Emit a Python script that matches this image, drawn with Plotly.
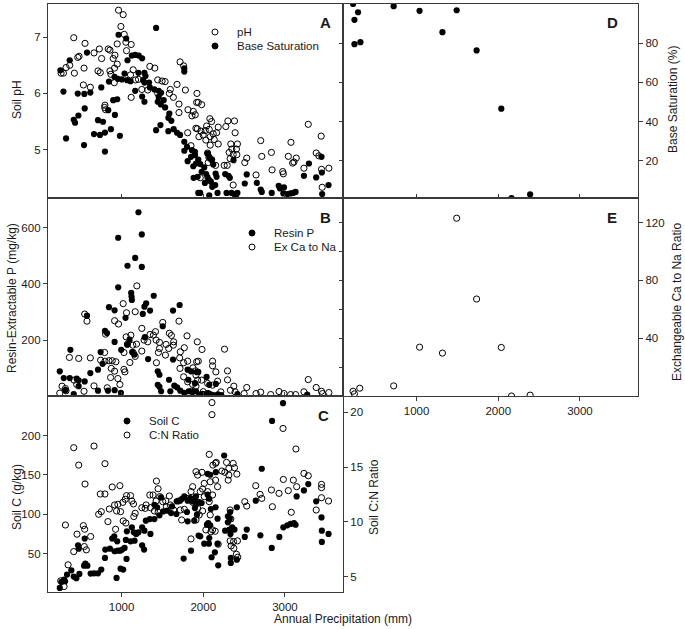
import plotly.graph_objects as go

# ---------------- Panel A: soil pH (left axis) and base saturation (right axis)
ph_precip = [963,1020,992,1033,415,553,1053,1118,947,728,837,858,663,480,464,756,919,1061,898,366,
             321,260,289,423,541,712,740,858,914,947,870,1110,1142,1346,1407,1171,1207,911,533,618,
             1248,1443,1496,1533,1679,1597,1716,1760,1781,1118,1321,1443,1585,1634,1703,797,793,805,1703,1813,
             1878,1919,1862,1809,1910,1850,1923,1939,1980,1902,2081,2102,2041,2183,2276,2301,2382,2390,1927,1972,
             2024,2073,2122,2163,2085,1999,1947,2032,2134,2183,2085,2337,2418,2406,2350,2317,2366,2411,2329,2053,
             2069,2102,2061,2151,2256,2293,1963,2366,2532,2508,2703,2716,2834,2842,2646,2972,2980,3041,3073,3110,
             3138,3094,3285,3232,3382,3443,3447,3537,3455,3415]
ph_values = [7.48,7.40,7.19,7.05,6.99,6.89,6.91,6.87,6.88,6.79,6.79,6.77,6.72,6.66,6.64,6.62,6.68,6.76,6.62,6.50,
             6.46,6.36,6.36,6.36,6.45,6.40,6.37,6.40,6.45,6.52,6.34,6.33,6.42,6.48,6.45,6.24,6.25,6.19,6.15,6.11,
             6.07,6.24,6.22,6.21,6.16,6.07,6.56,6.49,6.06,5.93,6.06,6.00,6.00,5.93,5.81,5.79,5.75,5.71,5.66,5.71,
             5.68,5.84,5.60,5.30,5.38,5.07,6.00,5.84,5.80,5.62,5.55,5.50,5.42,5.40,5.41,5.51,5.51,5.30,5.37,5.33,
             5.34,5.36,5.28,5.30,5.23,5.26,5.23,5.17,5.18,5.10,5.08,5.10,5.10,5.01,5.01,4.95,4.91,4.91,4.84,4.94,
             4.86,4.82,4.77,4.72,4.72,4.72,4.50,4.37,4.85,4.77,5.16,4.88,4.95,4.64,4.55,4.61,4.57,4.88,5.13,4.78,
             4.85,4.76,5.45,4.67,4.94,5.24,4.65,4.67,4.33,4.89]

bs_precip = [963,1057,1423,577,366,252,289,321,541,464,545,618,549,472,415,431,663,736,797,870,
             797,980,712,773,919,837,898,947,752,846,914,955,1004,1037,1073,1126,1167,1211,1252,1069,
             1110,1167,1207,1280,1293,1264,1280,1337,1346,1252,1280,1402,1455,1484,1455,1443,1516,1480,1533,1585,
             1573,1610,1476,1423,1573,1638,1679,1716,1768,1768,1768,1801,1768,1862,1850,1899,1809,1878,1882,1939,
             1898,1939,1911,1963,1980,1931,2012,2053,2073,2106,2122,2036,2053,2073,2093,2020,2110,2146,2163,2151,
             2175,1963,2073,2268,2309,2325,2370,2285,2346,2378,2418,2398,2508,2532,2655,2703,2716,2838,2923,2939,
             2988,2980,3029,3069,3102,3130,3232,3293,3382,3447,3451,3533,3455]
bs_values = [84.3,82.4,87.8,75.2,71.3,66.2,55.3,31.4,28.0,54.3,54.1,54.8,46.7,43.1,40.9,39.4,33.6,33.2,34.4,36.1,
             24.7,32.7,40.7,39.9,43.4,45.8,50.9,51.4,57.4,60.4,62.8,61.8,61.5,64.5,71.3,73.7,74.0,73.7,72.3,61.1,
             60.6,55.7,64.9,64.9,63.2,61.1,59.9,59.9,57.4,52.8,50.1,56.4,55.7,54.7,52.6,50.1,50.9,48.7,47.2,44.1,
             41.9,40.4,38.2,35.6,35.1,36.1,34.3,33.2,67.1,65.5,29.7,27.1,25.1,25.4,22.0,22.9,19.8,17.2,11.3,3.6,
             24.6,20.6,18.6,18.3,14.4,11.8,16.6,23.7,22.0,20.6,18.1,13.2,11.5,10.1,9.3,8.7,6.7,7.6,11.8,13.5,
             3.6,3.6,2.4,13.2,12.3,11.3,20.3,3.6,3.6,3.0,3.6,1.6,8.4,13.0,8.7,5.3,4.1,3.6,7.2,5.9,
             6.4,3.3,3.0,3.3,3.6,4.1,12.3,18.6,11.5,22.0,14.0,7.6,3.0]

# ---------------- Panel B: resin P (left axis) and exchangeable Ca:Na (right axis)
resinp_precip = [1207,1248,959,1167,1073,1248,959,1118,1122,1126,1394,1301,1280,846,1349,915,1260,1630,1711,1504,
                 577,1049,797,822,915,1098,996,1069,374,1159,1130,1285,1630,1325,744,768,712,618,451,549,
                 366,293,244,475,475,313,415,712,833,915,992,1443,1464,1443,1464,1581,1484,1597,1646,1679,
                 1809,1850,1817,1899,1719,1768,1821,1870,1911,1923,1939,2041,2154,2073,2418,3272,1950,1990,2020,2060,
                 2100,2140,2180,2220]
resinp_values = [656,577,565,493,465,461,388,368,355,343,358,331,319,317,305,306,293,305,325,249,
                 287,279,233,225,193,201,165,183,165,148,157,210,130,132,157,115,94,82,62,52,
                 64,64,88,56,35,21,7,19,19,21,11,88,76,40,33,58,17,17,37,31,
                 94,88,58,46,19,11,17,14,17,85,86,68,43,40,7,5,5,8,3,10,
                 5,2,6,3]

cana_precip = [1187,1020,1167,1061,549,577,915,963,1248,1504,1703,1057,1114,805,1349,1390,1415,1276,1321,1423,
               1464,1585,1610,1801,1927,1183,1138,1073,1029,1102,1142,1167,1248,1427,1464,1451,1545,1577,1634,1638,
               1537,1719,1768,1711,1760,1715,1809,1874,1907,1919,793,744,797,846,886,931,362,476,618,874,
               915,1029,1041,866,955,980,825,663,541,419,451,313,272,244,321,1760,1809,1870,1854,1911,
               1931,1984,2260,1939,2114,2114,2154,2297,2297,1911,1980,2053,2114,2175,2374,2333,2390,2532,2500,2646,
               2703,2825,2927,2988,3069,3130,3232,3285,3382,3447,3459,3537,2215,2000,2040,2080]
cana_values = [76.2,63.9,58.3,57.6,56.7,51.8,52.1,49.8,46.8,50.9,51.8,40.9,42.1,42.8,42.6,42.1,44.5,38.7,37.5,38.7,
               37.1,43.4,41.9,41.6,37.5,35.9,35.2,35.9,30.1,23.2,30.1,27.4,31.1,23.0,32.9,30.1,35.7,32.9,35.2,37.5,
               28.3,30.6,33.4,26.4,23.0,19.1,24.1,19.5,17.4,23.7,30.1,24.8,24.1,24.4,24.4,23.7,26.7,26.0,26.4,19.1,
               17.2,18.4,16.7,12.8,12.1,8.0,5.7,7.0,3.3,11.0,8.0,5.2,6.8,2.0,3.6,13.3,9.8,8.0,3.3,6.8,
               11.0,32.2,32.4,24.1,24.1,20.9,16.7,17.4,11.2,14.4,11.0,8.7,7.5,10.3,6.8,4.0,2.9,5.9,1.7,1.7,
               2.7,1.0,3.1,1.7,1.0,1.0,2.9,11.4,5.9,3.3,1.7,2.4,2.9,3.0,1.5,0.8]

# ---------------- Panel C: soil C (left axis) and C:N ratio (right axis)
soilc_precip = [1402,1346,1297,1280,1207,1252,1179,1150,1126,1065,1053,1110,1159,1252,1276,1354,1037,984,911,886,
                947,955,1008,915,801,858,797,988,1020,1061,939,752,712,663,622,557,541,582,484,415,
                447,386,333,297,309,244,264,468,549,476,1402,1435,1484,1508,1557,1606,1618,1675,1716,1740,
                1768,1809,1842,1866,1894,1915,1898,1801,1671,1464,1809,1890,1923,1850,1760,1943,2976,2842,2256,2716,
                2053,2085,2154,1911,1951,1980,2053,2073,1911,2093,2151,2411,2329,2301,2325,2175,2061,2085,2045,1963,
                2073,2268,2301,2354,2321,2333,2382,2532,2508,2699,2931,2838,2012,2069,2175,2142,2102,2183,2337,2411,
                2337,2642,3143,3232,3285,2980,3029,3069,3110,3130,3382,3447,3451,3451,3533]
soilc_values = [94.2,94.2,92.1,79.5,77.4,83.7,75.3,77.4,83.7,78.6,67.7,66.0,66.8,60.9,55.5,75.3,57.6,54.2,72.3,69.4,
                66.0,54.2,55.5,53.4,55.5,56.7,44.9,31.4,30.2,43.7,19.6,30.2,25.5,25.5,25.1,37.8,35.2,35.2,24.7,21.3,
                19.2,29.3,23.9,17.5,15.4,7.0,14.5,60.9,69.4,56.7,112.3,109.0,121.6,103.9,104.8,101.8,110.2,116.6,117.4,119.9,
                122.9,117.4,120.8,116.6,119.9,114.5,108.1,103.1,100.6,98.9,91.3,92.1,99.7,54.2,44.1,73.2,240.9,218.5,174.7,157.9,
                151.5,150.3,153.6,122.9,115.7,114.5,125.0,119.9,112.3,106.9,109.0,109.0,103.1,97.6,94.7,94.7,89.2,86.2,87.1,72.3,
                70.2,79.5,90.0,83.7,80.8,75.3,80.8,80.8,71.5,73.6,71.5,57.6,63.0,63.0,63.0,52.0,45.8,35.6,44.9,42.8,
                38.6,117.4,122.9,130.5,138.5,83.7,86.2,88.0,89.2,87.0,116.6,96.3,79.5,65.2,75.3]

cn_precip = [415,663,476,797,553,1427,1447,740,797,886,980,1061,1110,1045,1016,955,915,939,988,1126,
             1146,850,720,752,833,927,549,545,569,455,622,533,313,415,346,256,297,1020,1053,1167,
             1150,1248,1289,1301,1354,1386,1346,1423,1468,1402,1447,1504,1541,1585,1549,1597,1638,1695,1719,1768,
             1817,1870,1911,1870,1850,1931,1736,1911,1850,2106,2106,2976,3134,2073,2118,2151,2159,2228,2285,2313,
             2366,2382,2411,2313,2305,2264,1984,2012,2085,2151,2175,1992,1963,2012,2053,2114,2073,1931,1992,1951,
             2085,2032,2114,2093,2146,2183,2329,2337,2329,2370,2418,2341,2374,2406,2422,2508,2532,2642,2695,2716,
             2834,2927,2846,2980,3041,3102,3143,3077,3232,3285,3447,3447,3382,3447,3533]
cn_values = [16.78,16.93,15.19,15.32,13.46,13.73,13.03,12.55,12.55,13.19,13.31,12.40,12.40,12.07,11.79,11.61,11.55,11.00,10.94,11.91,
             11.64,11.18,10.70,10.94,10.03,9.33,9.33,7.75,7.45,8.88,8.67,9.66,9.72,7.29,6.08,4.62,4.10,10.09,9.90,10.79,
             10.49,11.30,11.24,11.55,11.30,12.46,12.46,11.91,12.31,11.00,10.88,11.85,11.91,12.37,11.39,11.55,11.09,11.91,11.09,11.15,
             12.15,11.79,14.59,13.22,12.77,14.28,10.18,10.18,8.45,20.9,19.8,18.54,16.66,16.17,15.19,15.35,15.44,14.65,15.44,14.89,
             15.35,14.95,14.37,14.28,13.82,14.53,14.53,13.52,13.67,13.82,13.22,13.00,12.77,12.31,12.77,12.46,11.85,11.24,11.00,10.64,
             10.64,9.27,9.27,9.10,9.15,7.96,11.09,10.27,8.27,8.21,8.27,7.81,7.60,7.05,6.78,11.85,11.45,13.31,12.52,12.15,
             12.92,12.61,11.39,13.88,12.86,13.82,13.22,10.88,14.43,14.22,13.43,13.13,11.09,12.21,11.91]

# ---------------- Panel D / E: subset of sites
d_precip = [223,284,240,240,313,720,1037,1491,1317,1735,2037,2162,2390]
d_basesat = [100.0,95.8,91.9,79.5,80.5,98.9,96.5,96.8,85.6,76.3,46.6,1.0,2.8]
e_precip = [223,240,305,720,1037,1317,1491,1735,2037,2162,2390]
e_cana = [3.3,1.5,5.4,7.0,33.8,29.7,123.0,67.1,33.6,0.0,0.6]

x_ticks = [1000, 2000, 3000]
x_tick_text = ["1000", "2000", "3000"]

# ---------------- figure
FONT = "Liberation Sans, Arial, Helvetica, sans-serif"
LINE = "#3a3a3a"
MS = 6.2

def filled(x, y, xa, ya):
    return go.Scatter(x=x, y=y, mode="markers", xaxis=xa, yaxis=ya, showlegend=False,
                      marker=dict(symbol="circle", size=MS, color="black", line=dict(width=0)))

def opened(x, y, xa, ya):
    return go.Scatter(x=x, y=y, mode="markers", xaxis=xa, yaxis=ya, showlegend=False,
                      marker=dict(symbol="circle-open", size=MS, color="black", line=dict(width=1)))

fig = go.Figure()
fig.add_trace(opened(ph_precip, ph_values, "x", "y"))
fig.add_trace(filled(bs_precip, bs_values, "x", "y2"))
fig.add_trace(filled(resinp_precip, resinp_values, "x2", "y3"))
fig.add_trace(opened(cana_precip, cana_values, "x2", "y4"))
fig.add_trace(filled(soilc_precip, soilc_values, "x3", "y5"))
fig.add_trace(opened(cn_precip, cn_values, "x3", "y6"))
fig.add_trace(filled(d_precip, d_basesat, "x4", "y7"))
fig.add_trace(opened(e_precip, e_cana, "x5", "y8"))

XR = [100, 3710]
DA = [0.6701, 1.0]
DB = [0.3333, 0.6701]
DC = [0.0, 0.3333]
tickfont = dict(family=FONT, size=11.5, color="#1a1a1a")

def xax(domain, anchor, labels):
    return dict(domain=domain, anchor=anchor, range=XR, tickvals=x_ticks, ticktext=x_tick_text,
                showticklabels=labels, ticks="outside" if labels else "inside", ticklen=4,
                tickcolor=LINE, showline=True, linecolor=LINE, linewidth=1.3, mirror=True,
                showgrid=False, zeroline=False, tickfont=tickfont)

def yax(domain, anchor, rng, vals, side="left", labels=True, ticks="outside", overlay=None, line=True):
    d = dict(range=rng, tickvals=vals, side=side, showticklabels=labels, ticks=ticks, ticklen=4,
             tickcolor=LINE, showgrid=False, zeroline=False, tickfont=tickfont, anchor=anchor)
    if overlay:
        d["overlaying"] = overlay
        d["showline"] = False
    else:
        d["domain"] = domain
        d.update(showline=line, linecolor=LINE, linewidth=1.3, mirror=True)
    return d

fig.update_layout(
    width=685, height=629,
    margin=dict(l=48, r=47, t=4, b=37),
    paper_bgcolor="white", plot_bgcolor="white",
    showlegend=False,
    font=dict(family=FONT, size=12, color="#1a1a1a"),
    xaxis=xax([0, 0.5], "y", False),
    xaxis2=xax([0, 0.5], "y3", False),
    xaxis3=xax([0, 0.5], "y5", True),
    xaxis4=xax([0.5, 1.0], "y7", False),
    xaxis5=xax([0.5, 1.0], "y8", True),
    yaxis=yax(DA, "x", [4.14, 7.59], [5, 6, 7]),
    yaxis2=yax(None, "x", [1, 100], [20, 40, 60, 80], side="right", labels=False, ticks="inside", overlay="y"),
    yaxis3=yax(DB, "x2", [0, 707], [200, 400, 600]),
    yaxis4=yax(None, "x2", [0, 137], [20, 40, 60, 80, 100, 120], side="right", labels=False, ticks="inside", overlay="y3"),
    yaxis5=yax(DC, "x3", [1.8, 250], [50, 100, 150, 200]),
    yaxis6=yax(None, "x3", [3.6, 21.5], [5, 10, 15, 20], side="right", labels=True, ticks="outside", overlay="y5"),
    yaxis7=yax(DA, "x4", [1, 100], [20, 40, 60, 80], side="right"),
    yaxis8=yax(DB, "x5", [0, 137], [40, 80, 120], side="right"),
)

def px2paper(px, py):
    return (px - 48) / 590.0, (592 - py) / 588.0

annots = []
def text(px, py, s, size=12, bold=False, angle=0, xanchor="center"):
    x, y = px2paper(px, py)
    annots.append(dict(x=x, y=y, xref="paper", yref="paper", text=("<b>%s</b>" % s) if bold else s,
                       showarrow=False, textangle=angle, xanchor=xanchor, yanchor="middle",
                       font=dict(family=FONT, size=size, color="#1a1a1a")))

# axis titles
text(17, 100, "Soil pH", angle=-90)
text(12, 298, "Resin-Extractable P (mg/kg)", angle=-90)
text(17, 497, "Soil C (g/kg)", angle=-90)
text(673, 100, "Base Saturation (%)", angle=-90)
text(677, 302, "Exchangeable Ca to Na Ratio", angle=-90)
text(374, 497, "Soil C:N Ratio", angle=-90)
text(343, 619, "Annual Precipitation (mm)")
# panel letters
for (lx, ly, s) in [(325, 23, "A"), (325, 218, "B"), (323, 415, "C"), (612, 23, "D"), (612, 218, "E")]:
    text(lx, ly, s, size=15, bold=True)

# legends
shapes = []
def legend_item(px, py, s, open_marker):
    x, y = px2paper(px, py)
    shapes.append(dict(type="circle", xref="paper", yref="paper", xsizemode="pixel", ysizemode="pixel",
                       xanchor=x, yanchor=y, x0=-3, x1=3, y0=-3, y1=3,
                       line=dict(color="black", width=1),
                       fillcolor="rgba(0,0,0,0)" if open_marker else "black"))
    text(px + 20, py, s, size=11.5, xanchor="left")

legend_item(215, 32, "pH", True)
legend_item(215, 46, "Base Saturation", False)
legend_item(252, 233, "Resin P", False)
legend_item(252, 247, "Ex Ca to Na", True)
legend_item(127, 421, "Soil C", False)
legend_item(127, 435, "C:N Ratio", True)

fig.update_layout(annotations=annots, shapes=shapes)
# the page's default 8px body margin would shift the whole chart; remove it
fig.write_html("out.html", config={"displayModeBar": False},
               post_script="document.body.style.margin='0';document.body.style.padding='0';")
